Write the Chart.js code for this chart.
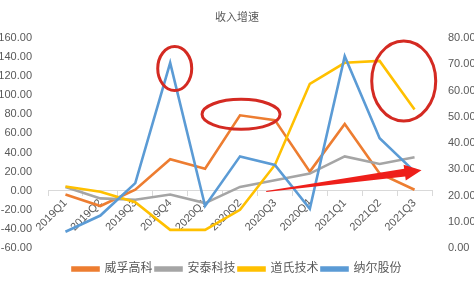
<!DOCTYPE html>
<html>
<head>
<meta charset="utf-8">
<script src="https://cdn.jsdelivr.net/npm/chart.js@4/dist/chart.umd.min.js"></script>
<style>
  body { margin: 0; background: #fff; }
</style>
</head>
<body>
<canvas id="chart" width="474" height="289"></canvas>
<script>
// quarters on the x axis
const quarters = ["2019Q1", "2019Q2", "2019Q3", "2019Q4", "2020Q1", "2020Q2",
                  "2020Q3", "2020Q4", "2021Q1", "2021Q2", "2021Q3"];

// revenue growth (%) per company
const weifu   = [-4, -16, 1, 33, 23, 79, 74, 20, 70, 18, 1];     // 威孚高科
const antai   = [4, -8, -9.5, -4, -13, 4, 11, 18, 36, 28, 35];   // 安泰科技
const daoshi  = [4.5, -1, -12, -41, -41, -20, 27, 112, 134, 136, 85]; // 道氏技术
const naer    = [-43, -26, 8, 134, -16, 36, 27, -19, 141, 55, 20]; // 纳尔股份

const seriesNames = ["威孚高科", "安泰科技", "道氏技术", "纳尔股份"];
const colors = ["#ED7D31", "#A5A5A5", "#FFC000", "#5B9BD5"];

// left / right axis ranges
const leftMin = -60, leftMax = 160, leftStep = 20;
const rightMin = 0, rightMax = 80, rightStep = 10;

// red hand-drawn marks over the chart (category index, left-axis value)
const circles = [
  { x: 3.13, y: 128, rx: 17, ry: 22 },
  { x: 5.03, y: 80, rx: 39, ry: 15 },
  { x: 9.69, y: 115, rx: 32, ry: 40 }
];
const arrowFrom = { x: 5.75, y: -0.8 };
const arrowTo = { x: 10.2, y: 21.4 };

const FONT = "'Liberation Sans', 'Noto Sans CJK SC', sans-serif";
const TEXT = "#595959";

// ------------------- RED MARKS PLUGIN -------------------
const redMarks = {
  id: "redMarks",
  afterDatasetsDraw(chart) {
    const { ctx, scales } = chart;
    const xs = scales.x, ys = scales.y;
    ctx.save();
    ctx.strokeStyle = "#D42A22";
    ctx.lineWidth = 3;
    circles.forEach(c => {
      ctx.beginPath();
      ctx.ellipse(xs.getPixelForValue(c.x), ys.getPixelForValue(c.y), c.rx, c.ry, 0, 0, Math.PI * 2);
      ctx.stroke();
    });

    // arrow
    const x0 = xs.getPixelForValue(arrowFrom.x), y0 = ys.getPixelForValue(arrowFrom.y);
    const x1 = xs.getPixelForValue(arrowTo.x), y1 = ys.getPixelForValue(arrowTo.y);
    const len = Math.hypot(x1 - x0, y1 - y0);
    const ux = (x1 - x0) / len, uy = (y1 - y0) / len;
    const nx = -uy, ny = ux;
    const headLen = 17, headW = 8, shaftW = 4;
    const bx = x1 - ux * headLen, by = y1 - uy * headLen;
    ctx.fillStyle = "#EE1F1A";
    ctx.beginPath();
    ctx.moveTo(x0 + nx * 0.5, y0 + ny * 0.5);
    ctx.lineTo(bx + nx * shaftW, by + ny * shaftW);
    ctx.lineTo(bx + nx * headW, by + ny * headW);
    ctx.lineTo(x1, y1);
    ctx.lineTo(bx - nx * headW, by - ny * headW);
    ctx.lineTo(bx - nx * shaftW, by - ny * shaftW);
    ctx.lineTo(x0 - nx * 0.5, y0 - ny * 0.5);
    ctx.closePath();
    ctx.fill();
    ctx.restore();
  }
};

const allSeries = [weifu, antai, daoshi, naer];

new Chart(document.getElementById("chart"), {
  type: "line",
  data: {
    labels: quarters,
    datasets: allSeries.map((d, i) => ({
      label: seriesNames[i],
      data: d,
      borderColor: colors[i],
      backgroundColor: colors[i],
      borderWidth: 2.6,
      pointRadius: 0,
      tension: 0,
      order: 3 - i,
      yAxisID: "y"
    }))
  },
  options: {
    responsive: false,
    animation: false,
    devicePixelRatio: 1,
    layout: { padding: { left: 0, right: 0, top: 0, bottom: 4 } },
    plugins: {
      title: {
        display: true,
        text: "收入增速",
        color: TEXT,
        font: { family: FONT, size: 11, weight: "normal" },
        padding: { top: 11, bottom: 13.8 }
      },
      legend: {
        position: "bottom",
        // empty title only used as spacing above the legend row
        title: { display: true, text: "", font: { size: 2 }, padding: { top: 0, bottom: 9.6 } },
        labels: {
          boxWidth: 26,
          boxHeight: 3,
          padding: 3,
          color: TEXT,
          font: { family: FONT, size: 12 },
          sort: (a, b) => a.datasetIndex - b.datasetIndex
        }
      },
      tooltip: { enabled: false }
    },
    scales: {
      x: {
        position: { y: 0 },
        offset: true,
        grid: {
          offset: true,
          drawOnChartArea: false,
          drawTicks: true,
          tickLength: 5,
          color: "#D9D9D9"
        },
        border: { color: "#D9D9D9" },
        ticks: {
          color: TEXT,
          font: { family: FONT, size: 11 },
          minRotation: 45,
          maxRotation: 45,
          padding: 1,
          autoSkip: false
        }
      },
      y: {
        position: "left",
        min: leftMin,
        max: leftMax,
        grid: { display: false },
        border: { display: false },
        afterFit: s => { s.width = 48; },
        ticks: {
          stepSize: leftStep,
          color: TEXT,
          padding: 8,
          font: { family: FONT, size: 11 },
          callback: v => v.toFixed(2)
        }
      },
      y1: {
        position: "right",
        min: rightMin,
        max: rightMax,
        grid: { display: false },
        border: { display: false },
        afterFit: s => { s.width = 42; },
        ticks: {
          stepSize: rightStep,
          color: TEXT,
          padding: 8,
          font: { family: FONT, size: 11 },
          callback: v => v.toFixed(2)
        }
      }
    }
  },
  plugins: [redMarks]
});
</script>
</body>
</html>
